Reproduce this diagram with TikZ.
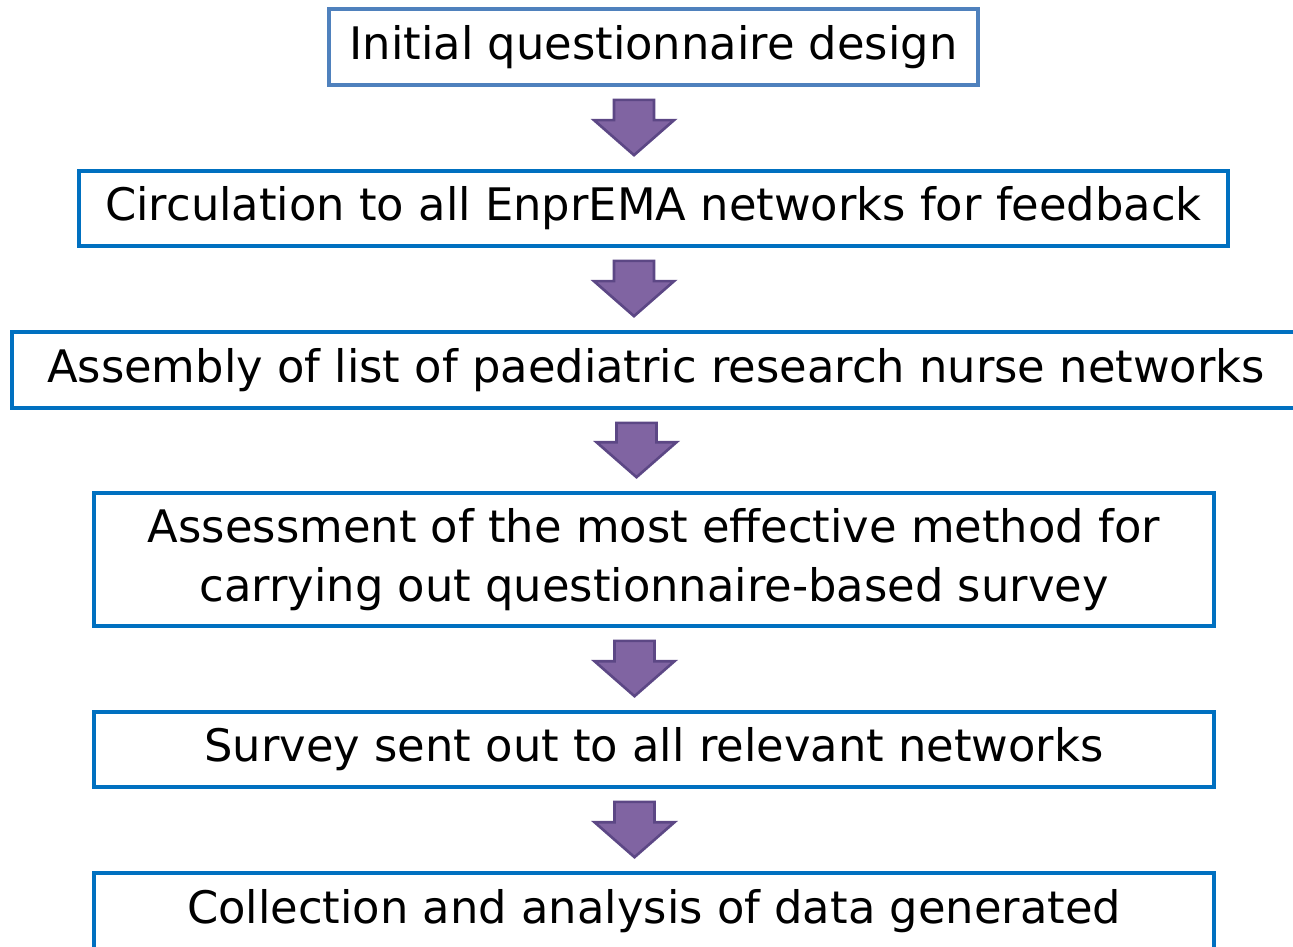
\documentclass[tikz,border=0pt]{standalone}
\usepackage{fontspec}
\setmainfont{DejaVu Sans}
\usetikzlibrary{calc}

\definecolor{boxblue}{HTML}{0070C0}
\definecolor{firstblue}{HTML}{4F81BD}
\definecolor{arrowfill}{HTML}{8064A2}
\definecolor{arrowline}{HTML}{5C4785}

\begin{document}
\begin{tikzpicture}[x=0.02cm,y=-0.02cm]

        \clip (0,0) rectangle (1293,946);

        \begin{scope}[every node/.style={draw=boxblue,line width=2.1pt,fill=white,
            inner sep=0pt,align=center,font=\fontsize{25.5}{34}\selectfont}]
          \node[draw=firstblue,minimum width=12.98cm,minimum height=1.52cm] (1) at (653.5,47)  {Initial questionnaire design};
          \node[minimum width=22.98cm,minimum height=1.5cm]  (2) at (653.5,208.5) {Circulation to all EnprEMA networks for feedback};
          \node[minimum width=25.76cm,minimum height=1.52cm] (3) at (656,370)    {Assembly of list of paediatric research nurse networks};
          \node[minimum width=22.4cm,minimum height=2.66cm]  (4) at (654,559.5)  {Assessment of the most effective method for\\carrying out questionnaire-based survey};
          \node[minimum width=22.4cm,minimum height=1.5cm]   (5) at (654,749.5)  {Survey sent out to all relevant networks};
          \node[minimum width=22.4cm,minimum height=1.52cm]  (6) at (654,911)    {Collection and analysis of data generated};
        \end{scope}

        \begin{scope}[every edge/.style={draw=arrowline,fill=arrowfill,line width=1.5pt,line join=miter,
            to path={let \p1=(\tikztostart.south), \p2=(\tikztotarget.north) in
              (\x1-0.79cm,\y1-0.26cm) -- (\x1+0.01cm,\y1-0.26cm) -- (\x1+0.01cm,\y2+0.98cm)
              -- (\x1+0.41cm,\y2+0.98cm) -- (\x1-0.39cm,\y2+0.28cm) -- (\x1-1.19cm,\y2+0.98cm)
              -- (\x1-0.79cm,\y2+0.98cm) -- cycle}}]
          \path (1) edge (2);
          \path (2) edge (3);
          \path (3) edge (4);
          \path (4) edge (5);
          \path (5) edge (6);
        \end{scope}

      \end{tikzpicture}
\end{document}
